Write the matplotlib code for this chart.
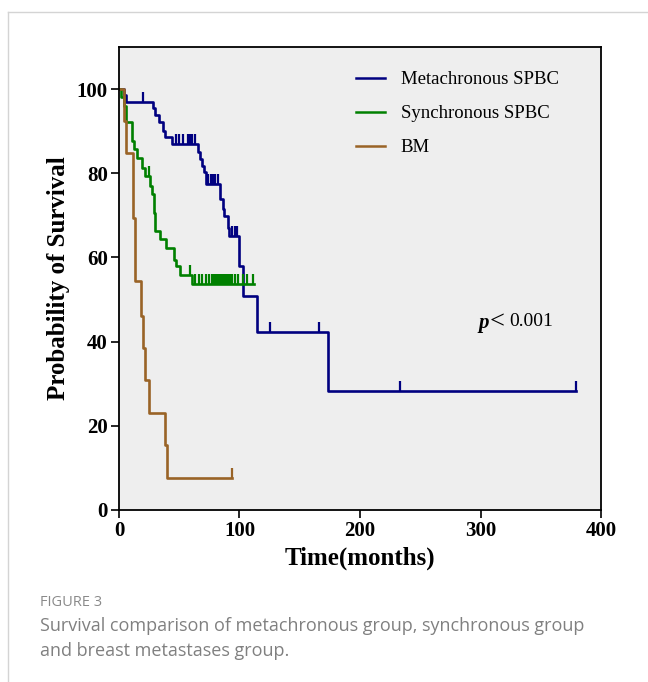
import numpy as np
import matplotlib.pyplot as plt
from matplotlib.lines import Line2D

# Kaplan-Meier step data (time in months, survival in %)
meta_times = [0, 4, 6, 28, 30.3, 33, 36.6, 38.5, 44, 65.6, 67, 69, 70.5, 72,
              83.5, 86, 87.5, 90.5, 91, 100, 103.3, 114.6, 173.8, 379]
meta_surv = [100, 98.5, 97, 95.4, 93.8, 92.1, 90.1, 88.5, 86.9, 85, 83.3, 81.7,
             80.3, 77.4, 73.8, 71.4, 69.8, 67, 65.1, 57.9, 50.8, 42.2, 28.2, 28.2]
meta_cens = [20, 47, 50, 53, 57, 59, 61, 63, 74, 76, 78, 80, 82, 94, 96, 98,
             125, 166, 233, 379]

syn_times = [0, 2, 4, 5.5, 10.5, 12.4, 14.6, 18.7, 21.5, 26, 27.8, 29, 30.3,
             34.4, 39.3, 45.4, 47.5, 51, 60.8, 112]
syn_surv = [100, 98, 96, 92.1, 87.7, 85.7, 83.6, 81.3, 79.4, 77, 75, 70.6, 66.3,
            64.3, 62.3, 59.5, 57.9, 55.9, 53.6, 53.6]
syn_cens = [25, 58.6, 63.3, 66, 68.8, 72.6, 75, 77, 78.5, 80, 81.5, 83, 84.5,
            86, 87.5, 89, 90.5, 92, 94, 96, 98.5, 102.8, 106, 111]

bm_times = [0, 4.1, 5.5, 11.8, 13.2, 18.2, 19.9, 21.7, 25, 38, 39.7, 93.6]
bm_surv = [100, 92.5, 84.9, 69.4, 54.4, 46.2, 38.5, 31, 23, 15.5, 7.7, 7.7]
bm_cens = [93.6]

groups = ["Metachronous SPBC", "Synchronous SPBC", "BM"]
colors = ["#000080", "#008000", "#996326"]

serif = "Liberation Serif"

fig = plt.figure(figsize=(6.48, 6.82), dpi=100)
ax = fig.add_axes([0.1836, 0.2522, 0.7439, 0.6789])
ax.set_facecolor("#eeeeee")

series = [(meta_times, meta_surv, meta_cens),
          (syn_times, syn_surv, syn_cens),
          (bm_times, bm_surv, bm_cens)]

for (t, s, c), name, col in zip(series, groups, colors):
    ax.step(t, s, where="post", color=col, lw=1.9, label=name)
    idx = np.searchsorted(t, c, side="right") - 1
    cy = np.array(s)[idx]
    ax.plot(c, cy, ls="none", marker=2, ms=7, mew=1.6, color=col)

ax.set_xlim(0, 400)
ax.set_ylim(0, 110)
ax.set_xticks([0, 100, 200, 300, 400])
ax.set_yticks([0, 20, 40, 60, 80, 100])
for sp in ax.spines.values():
    sp.set_linewidth(1.3)
ax.tick_params(direction="out", length=6, width=1.2, pad=2)
for lab in ax.get_xticklabels() + ax.get_yticklabels():
    lab.set_fontfamily(serif)
    lab.set_fontweight("bold")
    lab.set_fontsize(15)

ax.set_xlabel("Time(months)", fontfamily=serif, fontweight="bold",
              fontsize=18, labelpad=4)
ax.set_ylabel("Probability of Survival", fontfamily=serif, fontweight="bold",
              fontsize=18, labelpad=5)

ax.text(298, 44.5, "p", fontfamily=serif, fontstyle="italic", fontweight="bold",
        fontsize=15, va="center", ha="left")
ax.text(307.5, 44.7, "<", fontfamily=serif, fontsize=19,
        va="center", ha="left")
ax.text(324, 44.7, "0.001", fontfamily=serif, fontsize=14,
        va="center", ha="left")

leg = ax.legend(loc="upper left", bbox_to_anchor=(0.491, 0.9475), frameon=False,
                prop={"family": serif, "size": 13.5}, handlelength=1.55,
                handletextpad=0.85, labelspacing=0.9, borderpad=0,
                borderaxespad=0)
for h in leg.get_lines():
    h.set_linewidth(1.8)

# card border
fig.add_artist(Line2D([8 / 648, 1], [1 - 12 / 682, 1 - 12 / 682],
                      color="#d4d4d4", lw=1))
fig.add_artist(Line2D([8 / 648, 8 / 648], [0, 1 - 12 / 682],
                      color="#d4d4d4", lw=1))

fig.text(40 / 648, 1 - 603 / 682, "FIGURE 3", fontfamily="Open Sans",
         fontsize=10.5, color="#8a8a8a", va="center")
fig.text(40 / 648, 1 - 626 / 682,
         "Survival comparison of metachronous group, synchronous group",
         fontfamily="Open Sans", fontsize=13.0, color="#808080", va="center")
fig.text(40 / 648, 1 - 651 / 682, "and breast metastases group.",
         fontfamily="Open Sans", fontsize=13.0, color="#808080", va="center")

fig.savefig("out.png", dpi=100)
